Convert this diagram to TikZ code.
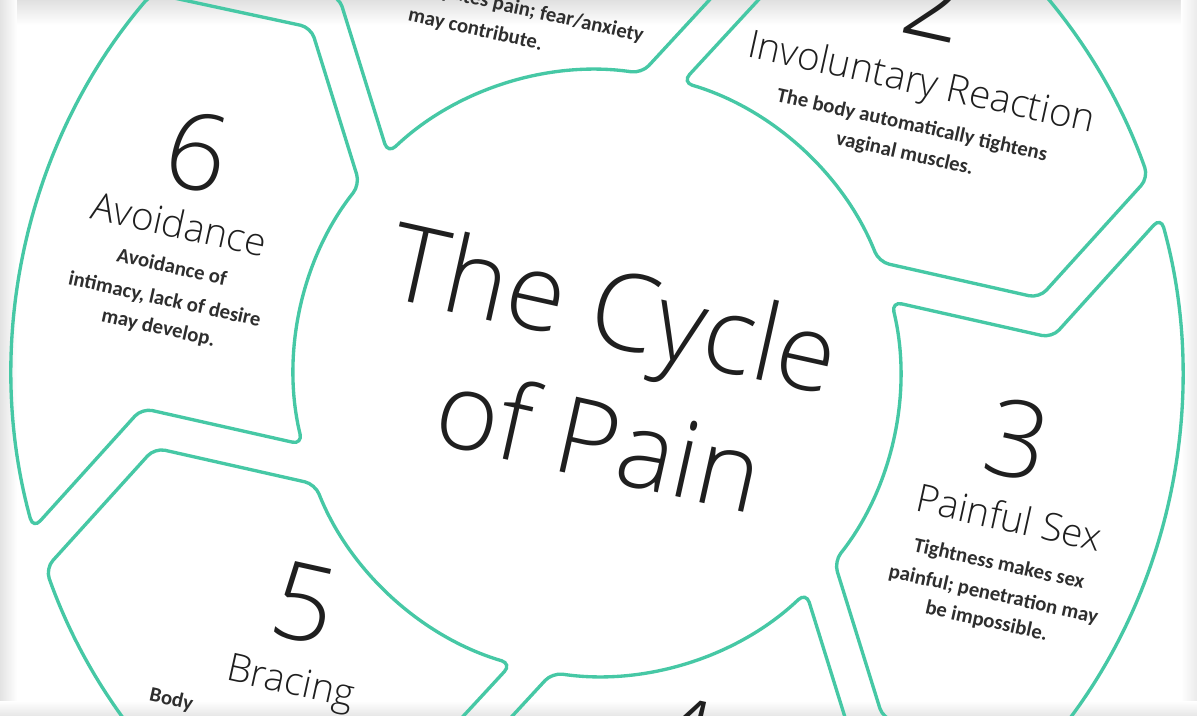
\documentclass[tikz,border=0pt]{standalone}
\usepackage{fontspec}
\IfFontExistsTF{Open Sans Light}{\newfontfamily\lightfont{Open Sans Light}}{\newfontfamily\lightfont{Open Sans}}
\newfontfamily\descfont{Carlito}
\definecolor{ringcol}{RGB}{70,200,165}
\tikzset{
  seg/.style={draw=ringcol, line width=0.95pt, rounded corners=3pt},
  bignum/.style={font=\lightfont\fontsize{30.5}{36}\selectfont, text=black!88, anchor=base, inner sep=0pt},
  ttl/.style={font=\lightfont\fontsize{11}{13}\selectfont, text=black!88, anchor=base, inner sep=0pt},
  dsc/.style={font=\descfont\bfseries\fontsize{5.9}{7}\selectfont, text=black!82, anchor=base, inner sep=0pt},
}
\begin{document}
\begin{tikzpicture}
\useasboundingbox (-5.97,-3.42) rectangle (6.00,3.73);
\clip (-5.97,-3.42) rectangle (6.00,3.73);
\fill[white] (-5.97,-3.42) rectangle (6.00,3.73);
\shade[top color=black!12, bottom color=white] (-5.97,3.48) rectangle (6.00,3.73);
\shade[left color=black!11, right color=white] (-5.97,-3.42) rectangle (-5.80,3.73);
\shade[left color=white, right color=black!8] (5.84,-3.42) rectangle (6.00,3.73);
\shade[top color=white, bottom color=black!9] (-5.97,-3.42) rectangle (6.00,-3.28);
\begin{scope}[rotate=-12.5, transform shape]
  \foreach \a in {120,60,0,-60,-120,180}{
    \draw[seg, rotate=\a] (-27.98:5.85) arc[start angle=-27.98, end angle=27.94, radius=5.85]
      -- (16.93:4.564) -- (26.14:3.03) arc[start angle=26.14, end angle=-25.98, radius=3.03]
      -- (-37.88:4.486) -- cycle;
  }
  % centre
  \node[bignum] (c1) at (0.03,0.28) {The Cycle};
  \node[bignum] (c2) at (0.17,-1.04) {of Pain};
  % segment 1 (partly visible)
  \node[dsc, anchor=base east] (d1a) at (-0.27,3.33) {pates pain; fear/anxiety};
  \node[dsc] (d1b) at (-1.93,3.03) {may contribute.};
  % segment 2
  \node[bignum] (n2) at (2.50,3.98) {2};
  \node[ttl] (t2) at (2.54,3.415) {Involuntary Reaction};
  \node[dsc] (d2a) at (2.54,3.04) {The body automatically tightens};
  \node[dsc] (d2b) at (2.53,2.75) {vaginal muscles.};
  % segment 3
  \node[bignum] (n3) at (4.25,-0.12) {3};
  \node[ttl] (t3) at (4.34,-0.66) {Painful Sex};
  \node[dsc] (d3a) at (4.34,-1.056) {Tightness makes sex};
  \node[dsc] (d3b) at (4.35,-1.365) {painful; penetration may};
  \node[dsc] (d3c) at (4.34,-1.64) {be impossible.};
  % segment 4 (partly visible)
  \node[bignum] (n4) at (1.62,-3.75) {4};
  % segment 5
  \node[bignum] (n5) at (-2.36,-3.26) {5};
  \node[ttl] (t5) at (-2.32,-3.80) {Bracing};
  \node[dsc, anchor=base west] (d5a) at (-3.675,-4.17) {Body};
  % segment 6
  \node[bignum] (n6) at (-4.38,0.91) {6};
  \node[ttl] (t6) at (-4.40,0.41) {Avoidance};
  \node[dsc] (d6a) at (-4.38,0.05) {Avoidance of};
  \node[dsc] (d6b) at (-4.38,-0.28) {intimacy, lack of desire};
  \node[dsc] (d6c) at (-4.38,-0.57) {may develop.};
\end{scope}
\end{tikzpicture}
\end{document}
